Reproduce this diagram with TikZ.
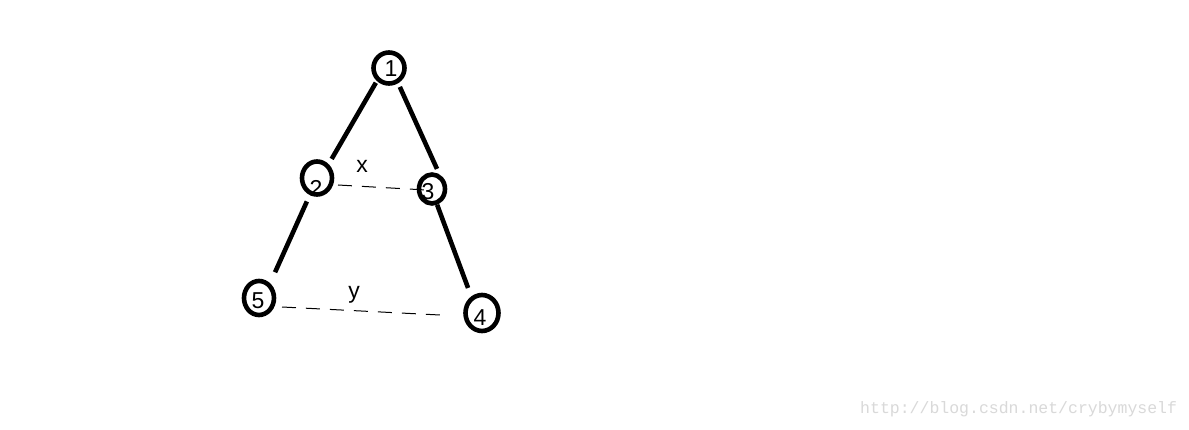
\documentclass[tikz,border=0pt]{standalone}
\usepackage{fontspec}
\setmainfont{Liberation Sans}
\newfontfamily\wmfont{Liberation Mono}
\usetikzlibrary{calc,shapes.geometric}
\tikzset{
  circ/.style={draw=black, line width=4.6pt, ellipse, inner sep=0pt},
  lbl/.style={inner sep=0pt, font=\fontsize{23}{23}\selectfont},
  edge/.style={draw=black, line width=4.6pt},
  dashline/.style={draw=black, line width=1pt, dash pattern=on 14pt off 10pt},
}
\begin{document}
\begin{tikzpicture}[x=1pt,y=-1pt]
\useasboundingbox[fill=white] (0,0) rectangle (1189,430);
% circles
\node[circ, minimum width=31pt, minimum height=31pt] (n1) at (389,68) {};
\node[circ, minimum width=30pt, minimum height=33pt] (n2) at (317,178) {};
\node[circ, minimum width=26pt, minimum height=29pt] (n3) at (432,189) {};
\node[circ, minimum width=30pt, minimum height=34pt] (n5) at (259,298) {};
\node[circ, minimum width=33pt, minimum height=36pt] (n4) at (482,313) {};
% numbers
\node[lbl] (t1) at (391,69) {1};
\node[lbl] (t2) at (316,188) {2};
\node[lbl] (t3) at (428,192) {3};
\node[lbl] (t5) at (258,301) {5};
\node[lbl] (t4) at (480,318) {4};
\node[lbl] (tx) at (362,166) {x};
\node[lbl] (ty) at (354,295) {y};
% tree edges
\draw[edge, shorten <=2pt, shorten >=6pt] (n1.227) -- (n2.50);
\draw[edge, shorten <=4pt, shorten >=6pt] (n1.301) -- (n3.63);
\draw[edge, shorten <=7pt, shorten >=12pt] (n2.247) -- (n5.53);
\draw[edge, shorten <=0pt, shorten >=9pt] (n3.288) -- (n4.123);
% dashed connectors
\draw[dashline] ($(n2.center)+(21,7)$) -- ($(n3.center)+(-6,1)$);
\draw[dashline] ($(n5.center)+(23,9)$) -- ($(n4.center)+(-42,2)$);
% watermark
\node[anchor=base west, inner sep=0pt, text=black!15, font=\wmfont\fontsize{16.5}{16.5}\selectfont] (wm) at (860,413) {http://blog.csdn.net/crybymyself};
\end{tikzpicture}
\end{document}
